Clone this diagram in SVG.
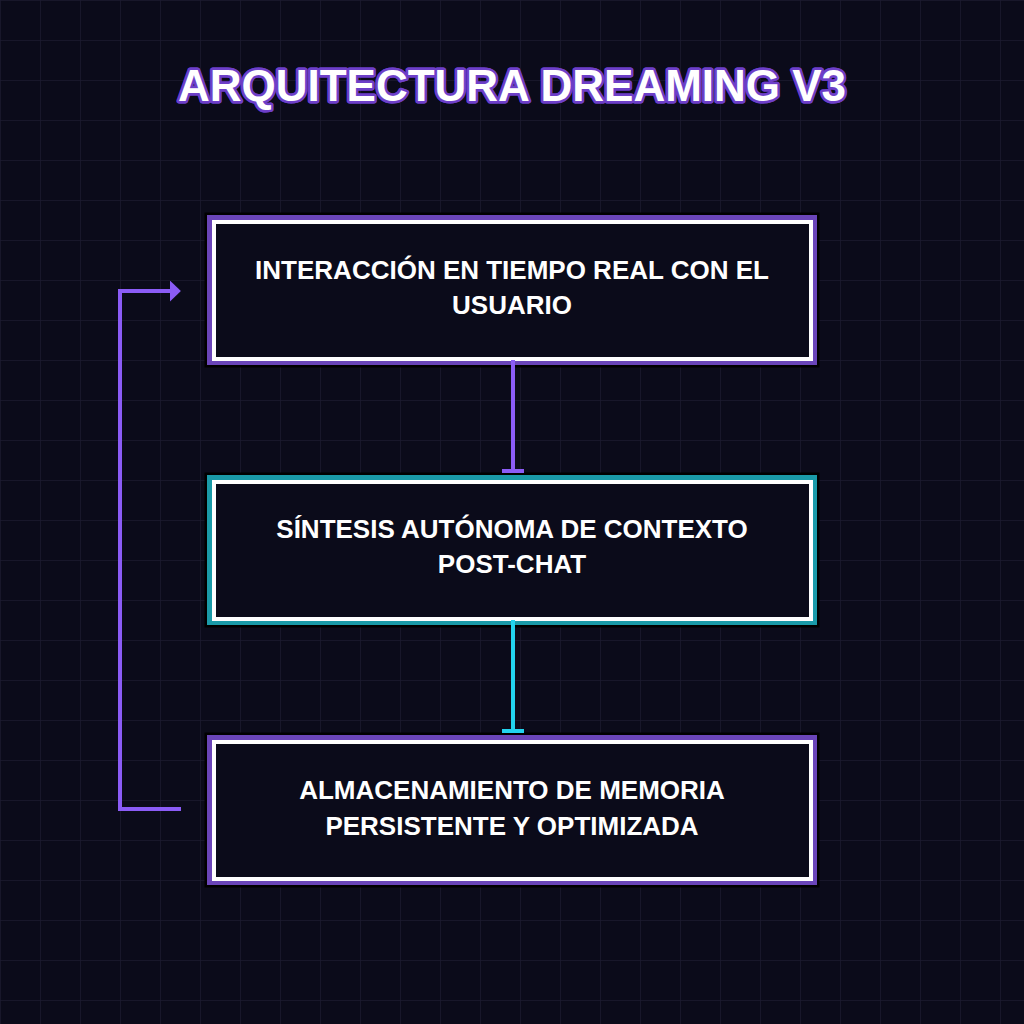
<svg xmlns="http://www.w3.org/2000/svg" width="1024" height="1024" viewBox="0 0 1024 1024">
<defs>
<style>
.bg{fill:#0b0b1a}
.title{font-family:"Liberation Sans",Arial,sans-serif;font-weight:bold;font-size:44px;fill:#ffffff;stroke:#6d3fc8;stroke-width:5px;paint-order:stroke;stroke-linejoin:round;text-anchor:middle}
.t{font-family:"Liberation Sans",Arial,sans-serif;font-weight:bold;font-size:26px;fill:#ffffff;text-anchor:middle}
.outer{fill:none;stroke:#000000;stroke-width:3}
.glowP{fill:none;stroke:#6a45b8;stroke-width:6}
.glowC{fill:none;stroke:#1a9aa8;stroke-width:6}
.inner{fill:#0b0b1a;stroke:#ffffff;stroke-width:4}
.cP{stroke:#8b5cf6;stroke-width:4;fill:none}
.cC{stroke:#22d3ee;stroke-width:4;fill:none}
</style>
<pattern id="grid" width="40" height="40" patternUnits="userSpaceOnUse">
<path d="M40 0H0V40" fill="none" stroke="#1b1a30" stroke-width="1.5"/>
</pattern>
<marker id="arr" viewBox="0 0 10 10" refX="1" refY="5" markerWidth="2.75" markerHeight="5.25" orient="auto" markerUnits="strokeWidth" preserveAspectRatio="none">
<path d="M0 0L10 5L0 10z" fill="#8b5cf6"/>
</marker>
</defs>
<rect class="bg" width="1024" height="1024"/>
<rect width="1024" height="1024" fill="url(#grid)"/>
<text class="title" x="512" y="101" stroke="#000" stroke-width="9">ARQUITECTURA DREAMING V3</text>
<text class="title" x="512" y="101">ARQUITECTURA DREAMING V3</text>
<g id="node1">
<rect class="outer" x="206" y="214" width="612" height="152"/>
<rect class="glowP" x="210" y="218" width="604" height="144"/>
<rect class="inner" x="214" y="222" width="597" height="137"/>
<text class="t" x="512" y="279">INTERACCIÓN EN TIEMPO REAL CON EL</text>
<text class="t" x="512" y="314">USUARIO</text>
</g>
<g id="node2">
<rect class="outer" x="206" y="474" width="612" height="152"/>
<rect class="glowC" x="210" y="478" width="604" height="144"/>
<rect class="inner" x="214" y="482" width="597" height="137"/>
<text class="t" x="512" y="538">SÍNTESIS AUTÓNOMA DE CONTEXTO</text>
<text class="t" x="512" y="573">POST-CHAT</text>
</g>
<g id="node3">
<rect class="outer" x="206" y="734" width="612" height="152"/>
<rect class="glowP" x="210" y="738" width="604" height="144"/>
<rect class="inner" x="214" y="742" width="597" height="137"/>
<text class="t" x="512" y="799">ALMACENAMIENTO DE MEMORIA</text>
<text class="t" x="512" y="835">PERSISTENTE Y OPTIMIZADA</text>
</g>
<g id="connectors">
<path class="cP" d="M513 360V470"/>
<path class="cP" d="M502 471H524" stroke-width="3"/>
<path class="cC" d="M513 620V730"/>
<path class="cC" d="M502 731H524" stroke-width="3"/>
<path class="cP" d="M181 809H120V291H171" marker-end="url(#arr)"/>
</g>
</svg>
